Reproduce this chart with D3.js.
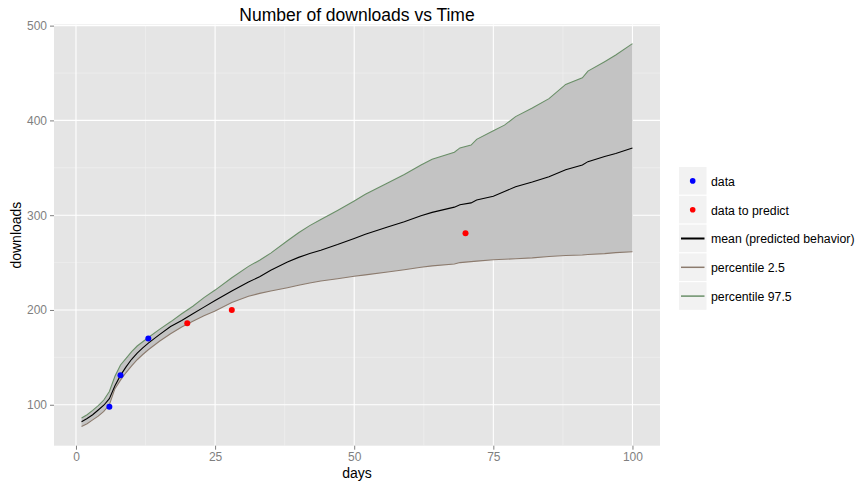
<!DOCTYPE html>
<html>
<head>
<meta charset="utf-8">
<script src="https://cdn.jsdelivr.net/npm/d3@7"></script>
<style>
  body { margin: 0; background: #fff; }
  text { font-family: "Liberation Sans", Arial, sans-serif; }
</style>
</head>
<body>
<div id="container"></div>
<script>
// values
var days = [1,2,3,4,5,6,7,8,9,10,11,12,13,15,17,19,21,23,25,28,31,33,35,38,40,42,44,47,50,52,56,59,62,64,68,69,71,72,75,77,79,82,85,88,91,92,95,97,100];
var upper = [86,89.5,94,99,105,114,130,142,149,156,162,166.5,171,179.5,187.5,196,204,213,221,234,246,252.5,260,273,281.5,289,295.5,305,315,322,334,343,353,359,366.5,371,374,380,389,395,404,413,423,438,445,452,462,469,481];
var mean = [82,85.5,89.5,94.5,99.5,106.5,120,131,140,148,154.5,160,165,174,182.5,189,196,203,210,220,229.5,235,242,250.5,255.5,259.5,263,269,275.5,280,287.5,293,299.5,303,308.5,311,313,316,320,325,330,335,340.5,348,353,356.5,362,365,371];
var lower = [77,80,84,88,93,100,117,126,134,141,147.5,153,158,167,175,182,188,194,199,208,214.5,217.5,220,223.5,226,228.5,230.5,233,235.5,237,240,242.5,245,246.5,248.5,250,251,251.5,253,253.5,254,255,256.5,257.5,258,258.5,259.5,260.5,261.5];

var dataDays = [6, 8, 13];
var dataVals = [98, 131, 170];
var predictDays = [20, 28, 70];
var predictVals = [186, 200, 281];

var xTicks = [0, 25, 50, 75, 100];
var yTicks = [100, 200, 300, 400, 500];
var xMinor = [12.5, 37.5, 62.5, 87.5];
var yMinor = [150, 250, 350, 450];

var legendLabels = ['data', 'data to predict', 'mean (predicted behavior)', 'percentile 2.5', 'percentile 97.5'];

var width = 859, height = 483;
var panel = {left: 54, right: 660, top: 24.5, bottom: 445.7};

var svg = d3.select('div#container')
	.append('svg')
	.attr('width', width)
	.attr('height', height);

// ggplot style 5% expansion
var xExt = d3.extent(days), xPad = (xExt[1] - xExt[0]) * 0.05;
var yExt = [d3.min(lower), d3.max(upper)], yPad = (yExt[1] - yExt[0]) * 0.05;

var x = d3.scaleLinear()
	.domain([xExt[0] - xPad, xExt[1] + xPad])
	.range([panel.left, panel.right]);
var y = d3.scaleLinear()
	.domain([yExt[0] - yPad, yExt[1] + yPad])
	.range([panel.bottom, panel.top]);

svg.append('rect')
	.attr('x', panel.left)
	.attr('y', panel.top)
	.attr('width', panel.right - panel.left)
	.attr('height', panel.bottom - panel.top)
	.attr('fill', '#e5e5e5');

// grid
var grid = svg.append('g');
grid.selectAll('.vminor').data(xMinor).join('line')
	.attr('x1', d => x(d)).attr('x2', d => x(d))
	.attr('y1', panel.top).attr('y2', panel.bottom)
	.attr('stroke', '#f2f2f2').attr('stroke-width', 0.6);
grid.selectAll('.hminor').data(yMinor).join('line')
	.attr('y1', d => y(d)).attr('y2', d => y(d))
	.attr('x1', panel.left).attr('x2', panel.right)
	.attr('stroke', '#f2f2f2').attr('stroke-width', 0.6);
grid.selectAll('.vmajor').data(xTicks).join('line')
	.attr('x1', d => x(d)).attr('x2', d => x(d))
	.attr('y1', panel.top).attr('y2', panel.bottom)
	.attr('stroke', '#fff').attr('stroke-width', 1.1);
grid.selectAll('.hmajor').data(yTicks).join('line')
	.attr('y1', d => y(d)).attr('y2', d => y(d))
	.attr('x1', panel.left).attr('x2', panel.right)
	.attr('stroke', '#fff').attr('stroke-width', 1.1);

var rows = days.map((d, i) => ({day: d, up: upper[i], mid: mean[i], lo: lower[i]}));

svg.append('path')
	.datum(rows)
	.attr('fill', '#c3c3c3')
	.attr('d', d3.area().x(d => x(d.day)).y0(d => y(d.lo)).y1(d => y(d.up)));

function drawLine(key, color) {
	svg.append('path')
		.datum(rows)
		.attr('fill', 'none')
		.attr('stroke', color)
		.attr('stroke-width', 1.1)
		.attr('d', d3.line().x(d => x(d.day)).y(d => y(d[key])));
}
drawLine('lo', '#8c7b6e');
drawLine('up', '#6a8f68');
drawLine('mid', '#000');

svg.selectAll('circle.data')
	.data(dataDays)
	.join('circle')
	.attr('class', 'data')
	.attr('cx', d => x(d))
	.attr('cy', (d, i) => y(dataVals[i]))
	.attr('r', 3)
	.attr('fill', '#0000ff');

svg.selectAll('circle.pred')
	.data(predictDays)
	.join('circle')
	.attr('class', 'pred')
	.attr('cx', d => x(d))
	.attr('cy', (d, i) => y(predictVals[i]))
	.attr('r', 3)
	.attr('fill', '#ff0000');

// axes
var xAxis = svg.append('g')
	.attr('transform', 'translate(0,' + panel.bottom + ')')
	.call(d3.axisBottom(x).tickValues(xTicks).tickSize(4).tickPadding(3));
var yAxis = svg.append('g')
	.attr('transform', 'translate(' + panel.left + ',0)')
	.call(d3.axisLeft(y).tickValues(yTicks).tickSize(4).tickPadding(3));
[xAxis, yAxis].forEach(function(a) {
	a.select('.domain').remove();
	a.selectAll('.tick line').attr('stroke', '#7f7f7f');
	a.selectAll('.tick text')
		.attr('fill', '#7f7f7f')
		.attr('font-size', '12px')
		.attr('font-family', '"Liberation Sans", Arial, sans-serif');
});

svg.append('text')
	.text('days')
	.attr('x', (panel.left + panel.right) / 2)
	.attr('y', 478)
	.attr('text-anchor', 'middle')
	.attr('font-size', '14px');

svg.append('text')
	.text('downloads')
	.attr('transform', 'translate(21,' + ((panel.top + panel.bottom) / 2) + ') rotate(-90)')
	.attr('text-anchor', 'middle')
	.attr('font-size', '14px');

svg.append('text')
	.text('Number of downloads vs Time')
	.attr('x', (panel.left + panel.right) / 2)
	.attr('y', 21)
	.attr('text-anchor', 'middle')
	.attr('font-size', '17.5px');

// legend
var legend = svg.append('g').attr('transform', 'translate(679,167)');
var keyH = 28.8;
var items = legend.selectAll('g')
	.data(legendLabels)
	.join('g')
	.attr('transform', (d, i) => 'translate(0,' + (i * keyH) + ')');

items.append('rect')
	.attr('width', 27.5)
	.attr('height', keyH - 1.2)
	.attr('fill', '#f2f2f2');

items.append('text')
	.text(d => d)
	.attr('x', 32)
	.attr('y', keyH / 2)
	.attr('dy', '0.35em')
	.attr('font-size', '12.3px')
	.attr('fill', '#000');

var keyColors = ['#0000ff', '#ff0000', '#000', '#8c7b6e', '#6a8f68'];
items.filter((d, i) => i < 2).append('circle')
	.attr('cx', 13.7)
	.attr('cy', keyH / 2 - 0.5)
	.attr('r', 2.8)
	.attr('fill', (d, i) => keyColors[i]);
items.filter((d, i) => i >= 2).append('line')
	.attr('x1', 2).attr('x2', 25.5)
	.attr('y1', keyH / 2 - 0.5).attr('y2', keyH / 2 - 0.5)
	.attr('stroke', (d) => keyColors[legendLabels.indexOf(d)])
	.attr('stroke-width', d => legendLabels.indexOf(d) == 2 ? 2 : 1.5);
</script>
</body>
</html>
